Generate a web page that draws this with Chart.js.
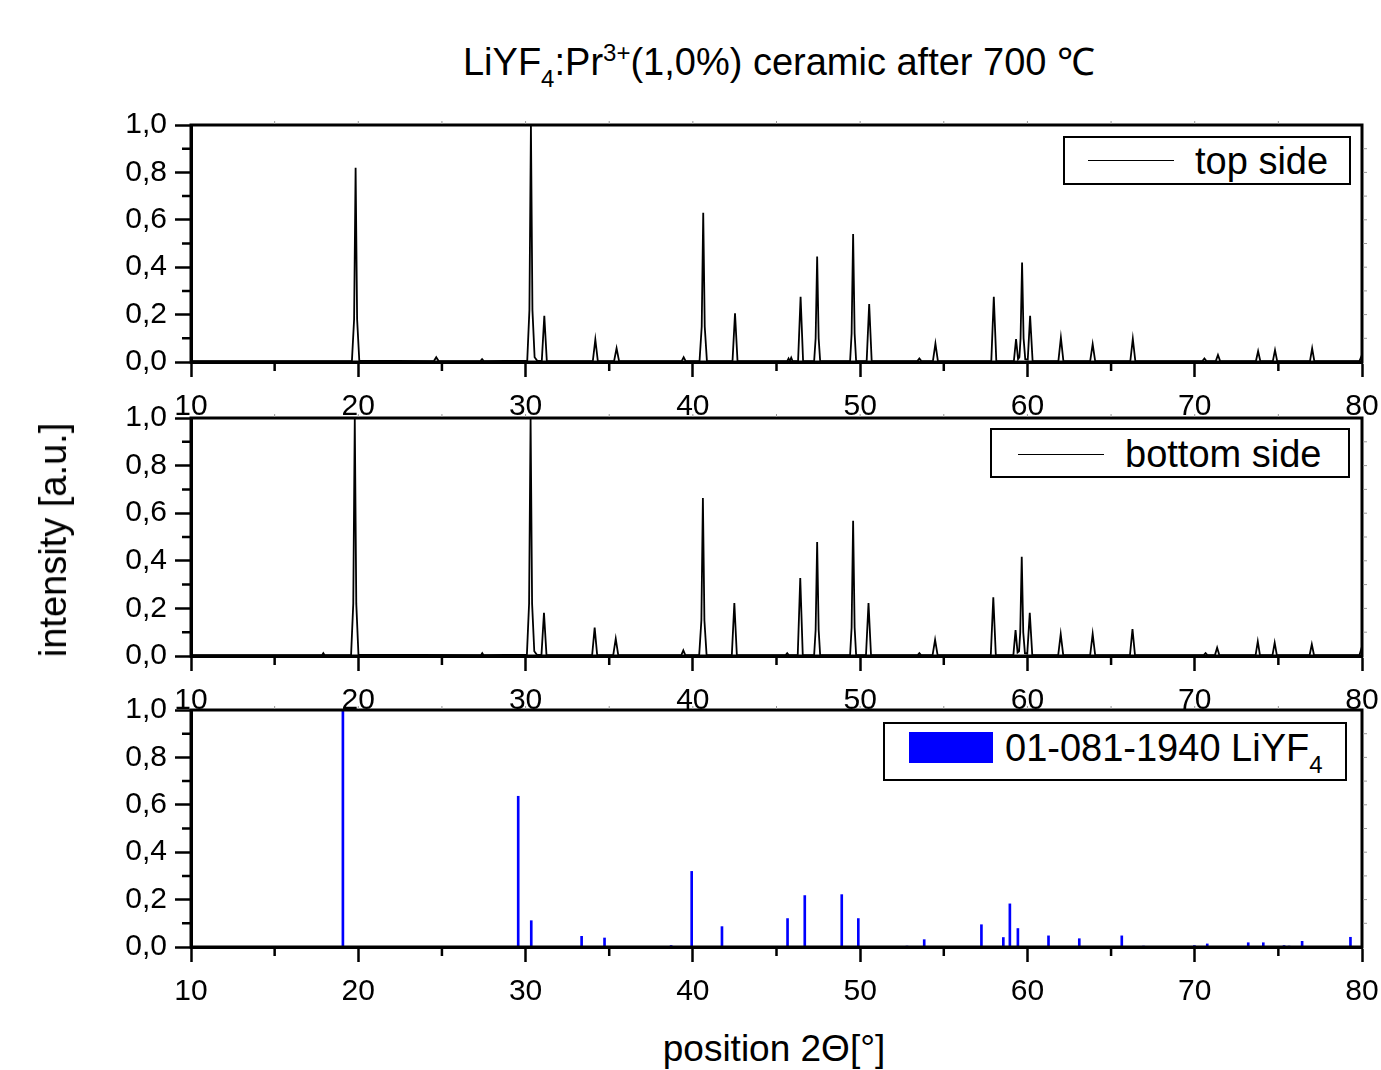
<!DOCTYPE html>
<html>
<head>
<meta charset="utf-8">
<script src="https://cdn.jsdelivr.net/npm/chart.js@4.4.1/dist/chart.umd.min.js"></script>
<style>
  body { margin: 0; background: #fff; }
  #wrap { position: relative; width: 1381px; height: 1070px; font-family: 'Liberation Sans', Arial, sans-serif; color: #000; overflow: hidden; }
  canvas { position: absolute; left: 0; }
  .txt { position: absolute; white-space: nowrap; font-size: 38px; line-height: 38px; }
  .sub { font-size: 24px; position: relative; top: 12px; }
  .sup { font-size: 24px; position: relative; top: -14px; }
  .legend { position: absolute; border: 2px solid #000; background: #fff; box-sizing: border-box; }
  .legend .line { position: absolute; height: 0; border-top: 1.5px solid #000; }
  .legend .swatch { position: absolute; background: #0000ff; }
</style>
</head>
<body>
<div id="wrap">
  <canvas id="c1" width="1392" height="332" style="top:95px"></canvas>
  <canvas id="c2" width="1392" height="333" style="top:388px"></canvas>
  <canvas id="c3" width="1392" height="332" style="top:680px"></canvas>

  <div class="txt" style="left:779px; top:43px; transform:translateX(-50%);">LiYF<span class="sub">4</span>:Pr<span class="sup">3+</span>(1,0%) ceramic after 700 ℃</div>
  <div class="txt" style="left:774px; top:1030px; transform:translateX(-50%); font-size:37px;">position 2Θ[°]</div>
  <div class="txt" style="left:53px; top:540px; transform:translate(-50%,-50%) rotate(-90deg);">intensity [a.u.]</div>

  <div class="legend" style="left:1063px; top:136px; width:288px; height:49px;">
    <div class="line" style="left:23px; width:86px; top:22px;"></div>
    <div class="txt" style="left:130px; top:4px;">top side</div>
  </div>
  <div class="legend" style="left:990px; top:428px; width:360px; height:50px;">
    <div class="line" style="left:26px; width:86px; top:24px;"></div>
    <div class="txt" style="left:133px; top:5px;">bottom side</div>
  </div>
  <div class="legend" style="left:883px; top:722px; width:464px; height:59px;">
    <div class="swatch" style="left:24px; top:8px; width:84px; height:31px;"></div>
    <div class="txt" style="left:120px; top:5px;">01-081-1940 LiYF<span class="sub">4</span></div>
  </div>
</div>
<script>
// top side pattern, [2theta, intensity]
const topSide = [
  [10.0, 0.004],
  [19.62, 0.005], [19.75, 0.18], [19.84, 0.82], [19.93, 0.18], [20.06, 0.006],
  [24.52, 0.004], [24.66, 0.02], [24.8, 0.004],
  [27.3, 0.004], [27.4, 0.012], [27.5, 0.004],
  [30.1, 0.006], [30.23, 0.22], [30.32, 1.0], [30.41, 0.22], [30.54, 0.02], [30.7, 0.005],
  [30.97, 0.005], [31.12, 0.195], [31.27, 0.005],
  [34.02, 0.004], [34.17, 0.095], [34.32, 0.004],
  [35.29, 0.004], [35.44, 0.058], [35.59, 0.004],
  [39.33, 0.004], [39.45, 0.02], [39.57, 0.004],
  [40.4, 0.005], [40.53, 0.15], [40.62, 0.63], [40.71, 0.15], [40.84, 0.005],
  [42.37, 0.004], [42.52, 0.205], [42.67, 0.004],
  [45.64, 0.004], [45.72, 0.015], [45.8, 0.004], [45.88, 0.018], [45.96, 0.004],
  [46.29, 0.004], [46.44, 0.275], [46.59, 0.004],
  [47.25, 0.004], [47.34, 0.1], [47.43, 0.445], [47.52, 0.1], [47.61, 0.004],
  [49.4, 0.004], [49.49, 0.12], [49.58, 0.54], [49.67, 0.12], [49.76, 0.004],
  [50.39, 0.004], [50.54, 0.245], [50.69, 0.004],
  [53.42, 0.004], [53.54, 0.015], [53.66, 0.004],
  [54.35, 0.004], [54.5, 0.078], [54.65, 0.004],
  [57.84, 0.004], [57.99, 0.275], [58.14, 0.004],
  [59.19, 0.004], [59.32, 0.097], [59.44, 0.012], [59.52, 0.02], [59.59, 0.1], [59.68, 0.42], [59.77, 0.1], [59.87, 0.012], [60.02, 0.01], [60.16, 0.195], [60.31, 0.004],
  [61.85, 0.004], [62.0, 0.103], [62.15, 0.004],
  [63.75, 0.004], [63.9, 0.075], [64.05, 0.004],
  [66.15, 0.004], [66.3, 0.098], [66.45, 0.004],
  [70.46, 0.004], [70.58, 0.015], [70.7, 0.004],
  [71.26, 0.004], [71.39, 0.03], [71.52, 0.004],
  [73.66, 0.004], [73.79, 0.046], [73.92, 0.004],
  [74.67, 0.004], [74.8, 0.05], [74.93, 0.004],
  [76.89, 0.004], [77.02, 0.058], [77.15, 0.004],
  [79.85, 0.004], [80.0, 0.03]
];

// bottom side pattern
const bottomSide = [
  [10.0, 0.004],
  [17.84, 0.004], [17.91, 0.012], [17.98, 0.004],
  [19.57, 0.005], [19.7, 0.22], [19.79, 1.0], [19.88, 0.22], [20.01, 0.006],
  [27.34, 0.004], [27.41, 0.012], [27.48, 0.004],
  [30.08, 0.006], [30.21, 0.22], [30.3, 1.0], [30.39, 0.22], [30.52, 0.02], [30.68, 0.005],
  [30.95, 0.005], [31.1, 0.181], [31.25, 0.005],
  [33.98, 0.004], [34.13, 0.119], [34.28, 0.004],
  [35.24, 0.004], [35.39, 0.073], [35.54, 0.004],
  [39.31, 0.004], [39.43, 0.024], [39.55, 0.004],
  [40.38, 0.005], [40.51, 0.15], [40.6, 0.664], [40.69, 0.15], [40.82, 0.005],
  [42.33, 0.004], [42.48, 0.223], [42.63, 0.004],
  [45.55, 0.004], [45.64, 0.012], [45.73, 0.004],
  [46.27, 0.004], [46.42, 0.328], [46.57, 0.004],
  [47.25, 0.004], [47.34, 0.11], [47.43, 0.479], [47.52, 0.11], [47.61, 0.004],
  [49.4, 0.004], [49.49, 0.12], [49.58, 0.568], [49.67, 0.12], [49.76, 0.004],
  [50.35, 0.004], [50.5, 0.222], [50.65, 0.004],
  [53.44, 0.004], [53.54, 0.012], [53.64, 0.004],
  [54.33, 0.004], [54.48, 0.068], [54.63, 0.004],
  [57.81, 0.004], [57.96, 0.247], [58.11, 0.004],
  [59.16, 0.004], [59.29, 0.109], [59.41, 0.015], [59.5, 0.02], [59.57, 0.1], [59.66, 0.417], [59.75, 0.1], [59.85, 0.012], [59.99, 0.01], [60.14, 0.181], [60.29, 0.004],
  [61.84, 0.004], [61.99, 0.092], [62.14, 0.004],
  [63.75, 0.004], [63.9, 0.093], [64.05, 0.004],
  [66.13, 0.004], [66.28, 0.113], [66.43, 0.004],
  [70.54, 0.004], [70.65, 0.012], [70.76, 0.004],
  [71.21, 0.004], [71.34, 0.035], [71.47, 0.004],
  [73.64, 0.004], [73.77, 0.061], [73.9, 0.004],
  [74.65, 0.004], [74.78, 0.056], [74.91, 0.004],
  [76.87, 0.004], [77.0, 0.049], [77.13, 0.004],
  [79.85, 0.004], [80.0, 0.04]
];

// reference card 01-081-1940 LiYF4
const refPos = [19.08, 29.56, 30.34, 33.35, 34.72, 38.7, 39.93, 41.74, 45.66, 46.69, 48.9, 49.89, 52.8, 53.83, 57.25, 58.56, 58.95, 59.43, 61.26, 63.1, 65.64, 66.94, 69.98, 70.75, 73.2, 74.1, 75.34, 75.64, 76.42, 79.31];
const refInt = [1.0, 0.636, 0.111, 0.045, 0.038, 0.006, 0.319, 0.086, 0.12, 0.217, 0.221, 0.12, 0.004, 0.031, 0.094, 0.04, 0.182, 0.078, 0.047, 0.035, 0.047, 0.004, 0.006, 0.013, 0.018, 0.018, 0.006, 0.004, 0.024, 0.041];

const xMinor = [15, 25, 35, 45, 55, 65, 75];
const yMinor = [0.1, 0.3, 0.5, 0.7, 0.9];

const tickFont = { family: "'Liberation Sans', Arial, sans-serif", size: 30 };

// box around plot + minor ticks
const framePlugin = {
  id: 'frame',
  afterDraw(chart) {
    const { ctx, chartArea: a, scales: { x, y } } = chart;
    ctx.save();
    ctx.strokeStyle = '#000';
    ctx.lineWidth = 3;
    ctx.strokeRect(a.left, a.top, a.right - a.left, a.bottom - a.top);
    ctx.lineWidth = 2.5;
    ctx.beginPath();
    yMinor.forEach(v => {
      const p = y.getPixelForValue(v);
      ctx.moveTo(a.left - 9, p); ctx.lineTo(a.left, p);
    });
    xMinor.forEach(v => {
      const p = x.getPixelForValue(v);
      ctx.moveTo(p, a.bottom); ctx.lineTo(p, a.bottom + 9);
    });
    ctx.stroke();
    // faint small ticks on the right and top edges
    ctx.lineWidth = 1;
    ctx.strokeStyle = '#999';
    ctx.beginPath();
    [0.1, 0.2, 0.3, 0.4, 0.5, 0.6, 0.7, 0.8, 0.9].forEach(v => {
      const p = y.getPixelForValue(v);
      ctx.moveTo(a.right + 1, p); ctx.lineTo(a.right + 5, p);
    });
    [15, 20, 25, 30, 35, 40, 45, 50, 55, 60, 65, 70, 75].forEach(v => {
      const p = x.getPixelForValue(v);
      ctx.moveTo(p, a.top - 1); ctx.lineTo(p, a.top - 4);
    });
    ctx.stroke();
    ctx.restore();
  }
};

function panelOptions() {
  return {
    responsive: false,
    animation: false,
    devicePixelRatio: 1,
    layout: { padding: { left: 0, right: 30, top: 30, bottom: 0 } },
    plugins: { legend: { display: false }, tooltip: { enabled: false } },
    scales: {
      x: {
        type: 'linear', min: 10, max: 80, offset: false,
        ticks: { stepSize: 10, font: tickFont, color: '#000', padding: 12, maxRotation: 0, autoSkip: false },
        grid: { drawOnChartArea: false, offset: false, tickLength: 15, tickWidth: 2.5, tickColor: '#000' },
        border: { display: true, width: 3, color: '#000' },
        afterFit: s => { s.height = 65; }
      },
      y: {
        min: 0, max: 1,
        ticks: {
          stepSize: 0.2, font: tickFont, color: '#000', padding: 8,
          callback: v => v.toFixed(1).replace('.', ',')
        },
        grid: { drawOnChartArea: false, tickLength: 16, tickWidth: 2.5, tickColor: '#000' },
        border: { display: true, width: 3, color: '#000' },
        afterFit: s => { s.width = 191; }
      }
    }
  };
}

function lineDataset(label, pts) {
  return {
    label: label,
    data: pts.map(p => ({ x: p[0], y: p[1] })),
    borderColor: '#000',
    borderWidth: 1.8,
    pointRadius: 0,
    tension: 0,
    fill: false
  };
}

new Chart(document.getElementById('c1'), {
  type: 'line',
  data: { datasets: [lineDataset('top side', topSide)] },
  options: panelOptions(),
  plugins: [framePlugin]
});

new Chart(document.getElementById('c2'), {
  type: 'line',
  data: { datasets: [lineDataset('bottom side', bottomSide)] },
  options: panelOptions(),
  plugins: [framePlugin]
});

new Chart(document.getElementById('c3'), {
  type: 'bar',
  data: {
    datasets: [{
      label: '01-081-1940 LiYF4',
      data: refPos.map((p, i) => ({ x: p, y: refInt[i] })),
      backgroundColor: '#0000ff',
      borderWidth: 0,
      barThickness: 2
    }]
  },
  options: panelOptions(),
  plugins: [framePlugin]
});
</script>
</body>
</html>
